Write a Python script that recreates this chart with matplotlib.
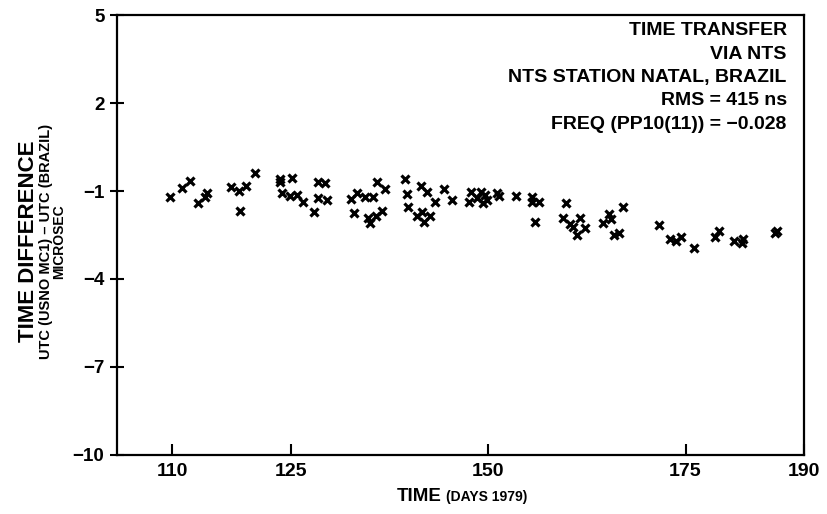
# Time transfer via NTS - UTC(USNO MC1) - UTC(Brazil) scatter, 1979

import matplotlib
matplotlib.use("Agg")
import matplotlib.pyplot as plt

# Data
days = [109.75, 111.2, 112.2, 113.3, 114.1, 114.4, 117.5, 118.4, 119.4, 118.6,
        120.5, 123.6, 123.7, 125.2, 123.9, 124.9, 125.8, 126.5, 127.9, 128.4,
        129.4, 128.5, 129.6, 132.6, 133.4, 133.0, 134.4, 135.4, 135.9, 136.9,
        134.8, 135.1, 135.8, 136.6, 139.5, 139.7, 139.9, 141.0, 141.5, 142.3,
        141.6, 141.9, 142.7, 143.3, 144.4, 145.4, 147.8, 147.6, 148.6, 149.1,
        149.6, 149.9, 149.4, 151.1, 151.4, 153.5, 155.5, 155.6, 156.5, 155.9,
        159.9, 159.5, 160.4, 160.7, 161.6, 161.2, 162.3, 164.6, 165.3, 165.6,
        167.1, 165.9, 166.6, 171.6, 173.0, 173.8, 174.4, 176.1, 178.7, 179.3,
        181.1, 182.1, 182.3, 186.3, 186.6]
diff_us = [-1.20, -0.91, -0.66, -1.42, -1.20, -1.08, -0.87, -0.99, -0.83, -1.67,
           -0.38, -0.60, -0.68, -0.57, -1.08, -1.17, -1.14, -1.37, -1.71, -0.70,
           -0.74, -1.25, -1.31, -1.26, -1.07, -1.76, -1.20, -1.20, -0.70, -0.94,
           -1.93, -2.10, -1.85, -1.67, -0.60, -1.10, -1.56, -1.85, -0.83, -1.02,
           -1.71, -2.05, -1.85, -1.37, -0.94, -1.31, -1.03, -1.37, -1.25, -1.02,
           -1.14, -1.31, -1.40, -1.06, -1.17, -1.17, -1.20, -1.37, -1.37, -2.05,
           -1.40, -1.93, -2.13, -2.24, -1.93, -2.50, -2.27, -2.10, -1.78, -1.97,
           -1.54, -2.50, -2.42, -2.16, -2.65, -2.70, -2.58, -2.95, -2.56, -2.35,
           -2.70, -2.76, -2.65, -2.44, -2.35]

x_ticks = [110, 125, 150, 175, 190]
y_ticks = [5, 2, -1, -4, -7, -10]

info_lines = ["TIME TRANSFER",
              "VIA NTS",
              "NTS STATION NATAL, BRAZIL",
              "RMS = 415 ns",
              "FREQ (PP10(11)) = \u22120.028"]

plt.rcParams['font.family'] = ['Liberation Sans', 'DejaVu Sans']
plt.rcParams['font.weight'] = 'bold'

fig = plt.figure(figsize=(8.28, 5.14), dpi=100)
ax = fig.add_axes([0.1413, 0.1148, 0.8297, 0.856])

ax.plot(days, diff_us, linestyle='none', marker='x', color='black',
        markersize=6, markeredgewidth=2.3)

ax.set_xlim(103, 190)
ax.set_ylim(-10, 5)
ax.set_xticks(x_ticks)
ax.set_yticks(y_ticks)
ax.set_yticklabels([str(t).replace('-', '\u2212') for t in y_ticks])

narrow = ['Liberation Sans Narrow', 'Liberation Sans']
for lab in ax.get_xticklabels():
    lab.set_family(narrow)
    lab.set_fontsize(14)
    lab.set_fontweight('bold')
for lab in ax.get_yticklabels():
    lab.set_fontsize(13.5)
    lab.set_fontweight('bold')

ax.tick_params(axis='x', direction='in', length=8, width=1.5, pad=6)
ax.tick_params(axis='y', direction='inout', length=10, width=1.5, pad=4)
for s in ax.spines.values():
    s.set_linewidth(1.6)

# info block, top right
for i, line in enumerate(info_lines):
    ax.text(0.975, 0.983 - i * 0.053, line, transform=ax.transAxes,
            ha='right', va='top', fontsize=14, fontweight='bold')

# y label in three lines
fig.text(0.034, 0.53, "TIME DIFFERENCE", rotation=90, ha='center', va='center',
         fontsize=16, fontweight='bold')
fig.text(0.055, 0.53, "UTC (USNO MC1) \u2013 UTC (BRAZIL)", rotation=90,
         ha='center', va='center', fontsize=10.5, fontweight='bold')
fig.text(0.072, 0.53, "MICROSEC", rotation=90, ha='center', va='center',
         fontsize=10, fontweight='bold')

# x label
fig.text(0.533, 0.025, "TIME", ha='right', va='baseline', fontsize=13.5,
         fontweight='bold')
fig.text(0.539, 0.025, "(DAYS 1979)", ha='left', va='baseline', fontsize=10,
         fontweight='bold')

fig.savefig("out.png", dpi=100)
